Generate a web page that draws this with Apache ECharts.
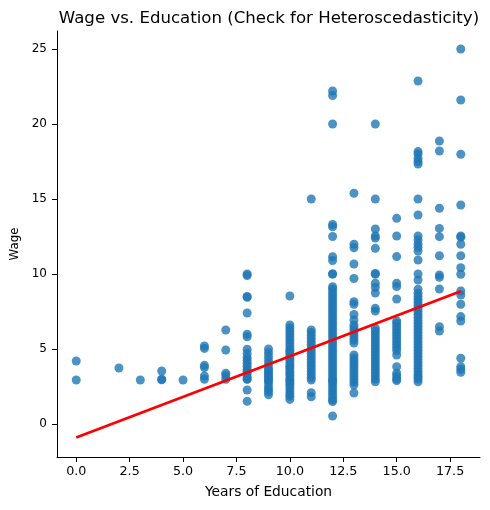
<!DOCTYPE html>
<html>
<head>
<meta charset="utf-8">
<script src="https://cdn.jsdelivr.net/npm/echarts@6/dist/echarts.min.js"></script>
<style>
html,body{margin:0;padding:0;background:#fff;}
#chart{width:490px;height:510px;}
</style>
</head>
<body>
<div id="chart"></div>
<script>
// Wage values grouped by years of education
const w0  = [4.2, 2.93];
const w2  = [3.73];
const w3  = [2.93];
const w4  = [3.53, 2.98, 2.95];
const w5  = [2.93];
const w6  = [5.2, 5.04, 3.91, 3.76, 3.2, 2.98];
const w7  = [6.27, 4.93, 3.38, 3.22, 2.98];
const w8  = [10.0, 9.9, 8.5, 8.45, 7.4, 5.98, 5.82, 4.98, 4.7, 4.44, 4.25, 4.04, 3.85, 3.64, 3.5, 3.38, 3.16, 3.0, 2.98, 2.27, 1.51];
const w9  = [5.0, 4.75, 4.5, 4.25, 4.0, 3.75, 3.6, 3.45, 3.3, 3.15, 3.0, 2.9, 2.75, 2.5, 2.3, 2.15, 1.95];
const w10 = [8.53, 6.6, 6.4, 6.2, 6.0, 5.8, 5.6, 5.4, 5.2, 5.0, 4.85, 4.7, 4.5, 4.35, 4.2, 4.0, 3.85, 3.7, 3.5, 3.35, 3.2, 3.0, 2.9, 2.75, 2.6, 2.4, 2.2, 2.0, 1.85, 1.64];
const w11 = [15.0, 6.27, 6.1, 5.9, 5.7, 5.5, 5.3, 5.1, 4.9, 4.7, 4.5, 4.3, 4.1, 3.9, 3.7, 3.5, 3.3, 3.1, 2.93, 2.09, 1.82];
const w12 = [22.2, 21.9, 20.0, 13.3, 13.15, 12.5, 11.15, 10.9, 10.0, 10.0, 9.15, 9.0, 8.8, 8.6, 8.4, 8.2, 8.0, 7.8, 7.6, 7.4, 7.2, 7.0, 6.8, 6.6, 6.4, 6.2, 6.0, 5.8, 5.6, 5.4, 5.2, 5.0, 4.8, 4.6, 4.4, 4.2, 4.0, 3.8, 3.6, 3.4, 3.2, 3.0, 2.9, 2.8, 2.6, 2.4, 2.2, 2.0, 1.8, 1.6, 1.5, 0.53];
const w13 = [15.38, 11.98, 11.75, 10.67, 9.7, 8.15, 7.98, 7.3, 6.93, 6.6, 6.4, 6.2, 6.0, 5.8, 5.6, 5.4, 4.6, 4.4, 4.2, 4.0, 3.8, 3.6, 3.4, 3.2, 3.0, 2.8, 2.6, 2.07];
const w14 = [20.0, 15.0, 13.0, 12.53, 12.4, 11.71, 10.04, 9.98, 9.38, 9.1, 8.73, 7.71, 7.53, 6.38, 6.2, 6.0, 5.8, 5.6, 5.4, 5.2, 5.0, 4.8, 4.6, 4.4, 4.2, 4.0, 3.8, 3.6, 3.4, 3.2, 3.0, 2.82];
const w15 = [13.71, 12.53, 11.16, 9.38, 9.16, 8.33, 6.87, 6.7, 6.5, 6.3, 6.1, 5.9, 5.7, 5.5, 5.3, 5.1, 4.9, 4.6, 3.82, 3.38, 3.2, 3.0, 2.9];
const w16 = [22.87, 18.16, 18.0, 17.7, 17.5, 17.33, 15.0, 13.93, 12.53, 12.27, 12.0, 11.78, 11.53, 10.93, 10.0, 9.6, 8.98, 8.71, 8.5, 8.3, 8.1, 7.9, 7.7, 7.5, 7.3, 7.1, 6.9, 6.7, 6.5, 6.3, 6.1, 5.9, 5.7, 5.5, 5.3, 5.1, 4.9, 4.7, 4.5, 4.3, 4.1, 3.9, 3.7, 3.5, 3.3, 3.16, 3.0, 2.82];
const w17 = [18.87, 18.2, 14.38, 13.04, 12.49, 11.22, 9.93, 9.78, 9.0, 6.49, 6.2];
const w18 = [25.0, 21.6, 17.98, 14.6, 12.53, 12.45, 11.98, 11.22, 10.42, 9.98, 8.87, 8.6, 7.98, 7.16, 6.87, 4.38, 3.82, 3.64, 3.45];

const educLevels = [0, 2, 3, 4, 5, 6, 7, 8, 9, 10, 11, 12, 13, 14, 15, 16, 17, 18];
const wageGroups = [w0, w2, w3, w4, w5, w6, w7, w8, w9, w10, w11, w12, w13, w14, w15, w16, w17, w18];

// Fitted regression line endpoints
const fitX = [0, 18];
const fitY = [-0.9, 8.85];

const xTicks = [0, 2.5, 5, 7.5, 10, 12.5, 15, 17.5];
const yTicks = [0, 5, 10, 15, 20, 25];

const points = [];
educLevels.forEach((e, i) => wageGroups[i].forEach(w => points.push([e, w])));
const fitLine = fitX.map((x, i) => [x, fitY[i]]);

const font = 'DejaVu Sans';
const chart = echarts.init(document.getElementById('chart'));
chart.setOption({
  animation: false,
  backgroundColor: '#fff',
  title: {
    text: 'Wage vs. Education (Check for Heteroscedasticity)',
    left: 264, textAlign: 'center', top: 5,
    textStyle: { fontFamily: font, fontSize: 16.6, fontWeight: 'normal', color: '#000' }
  },
  grid: { left: 57, right: 10, top: 31, bottom: 53 },
  xAxis: {
    type: 'value', min: -0.9, max: 18.9,
    name: 'Years of Education', nameLocation: 'middle', nameGap: 28,
    nameTextStyle: { fontFamily: font, fontSize: 13.8, color: '#000' },
    axisLine: { show: true, onZero: false, lineStyle: { color: '#000', width: 1 } },
    axisTick: { show: true, length: 5, lineStyle: { color: '#000' }, customValues: xTicks },
    axisLabel: { fontFamily: font, fontSize: 12.7, color: '#000', margin: 8,
      customValues: xTicks, formatter: v => v.toFixed(1) },
    splitLine: { show: false }
  },
  yAxis: {
    type: 'value', min: -2.2, max: 26.2,
    name: 'Wage', nameLocation: 'middle', nameGap: 34, nameRotate: 90,
    nameTextStyle: { fontFamily: font, fontSize: 11.8, color: '#000' },
    axisLine: { show: true, onZero: false, lineStyle: { color: '#000', width: 1 } },
    axisTick: { show: true, length: 5, lineStyle: { color: '#000' }, customValues: yTicks },
    axisLabel: { fontFamily: font, fontSize: 12, color: '#000', margin: 10,
      customValues: yTicks, formatter: v => String(Math.round(v)) },
    splitLine: { show: false }
  },
  series: [
    {
      type: 'scatter', data: points, symbolSize: 9, z: 2,
      itemStyle: { color: '#1f77b4', opacity: 0.8 }
    },
    {
      type: 'line', data: fitLine, showSymbol: false, symbol: 'none', z: 3,
      lineStyle: { color: '#ff0000', width: 2.8 }
    }
  ]
});
</script>
</body>
</html>
